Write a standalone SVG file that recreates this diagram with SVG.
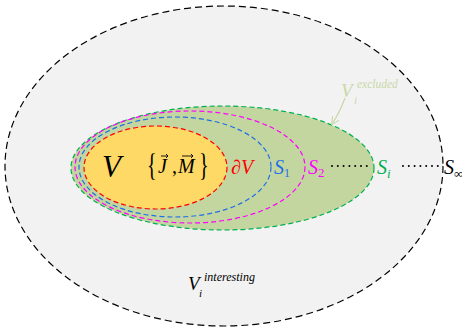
<svg xmlns="http://www.w3.org/2000/svg" width="462" height="328" viewBox="0 0 462 328">
<style>
.t{font-family:"Liberation Serif","DejaVu Serif",serif;font-style:italic}
.u{font-family:"Liberation Serif","DejaVu Serif",serif;font-style:normal}
.e{stroke-width:1.2;stroke-dasharray:5 3}
.dot{stroke:#000;stroke-width:2;stroke-dasharray:0 5.8;stroke-linecap:round;fill:none}
</style>
<defs>
<marker id="ah" viewBox="0 0 10 10" refX="9" refY="5" markerWidth="8" markerHeight="8" orient="auto" markerUnits="userSpaceOnUse">
<path d="M0,0 L10,5 L0,10" fill="none" stroke="#c8d8a8" stroke-width="1.2"/>
</marker>
</defs>
<rect width="462" height="328" fill="#ffffff"/>
<g id="outer">
<ellipse cx="224" cy="166" rx="219" ry="160" fill="#f2f2f2" stroke="#000" stroke-width="1.2" stroke-dasharray="7 4"/>
</g>
<g id="si">
<ellipse cx="222.5" cy="168" rx="151.5" ry="62" fill="#c4d6a0" stroke="#00b050" class="e"/>
</g>
<g id="s2">
<ellipse cx="190" cy="167" rx="115" ry="56" fill="none" stroke="#ff00ff" class="e"/>
</g>
<g id="s1">
<ellipse cx="175" cy="167" rx="96" ry="50" fill="none" stroke="#1e6fe6" class="e"/>
</g>
<g id="v">
<ellipse cx="155.5" cy="167.5" rx="71.5" ry="41.5" fill="#ffd966" stroke="#ff0000" class="e"/>
<text class="t" x="102" y="177" font-size="31" fill="#000">V</text>
<text class="u" transform="translate(147,176) scale(0.65,1)" font-size="31" fill="#000">{</text>
<text class="t" x="158" y="173" font-size="20" fill="#000">J</text>
<text class="u" x="172" y="173" font-size="20" fill="#000">,</text>
<text class="t" x="178" y="173" font-size="20" fill="#000">M</text>
<text class="u" transform="translate(199,176) scale(0.65,1)" font-size="31" fill="#000">}</text>
<g stroke="#000" stroke-width="0.9" fill="none">
<path d="M161,156 H168 M166,154 L168,156 L166,158"/>
<path d="M182,156 H193 M191,154 L193,156 L191,158"/>
</g>
</g>
<g id="labels">
<text class="t" x="231" y="174" font-size="20" fill="#ff0000">∂V</text>
<text class="t" x="274" y="174" font-size="20" fill="#1e6fe6">S<tspan class="u" font-size="12" dy="3">1</tspan></text>
<text class="t" x="308" y="174" font-size="20" fill="#ff00ff">S<tspan class="u" font-size="13" dy="3">2</tspan></text>
<text class="t" x="377" y="174" font-size="20" fill="#00b050">S<tspan font-size="13" dy="4">i</tspan></text>
<text class="t" x="444" y="174" font-size="20" fill="#000">S<tspan class="u" font-size="13" dy="4">∞</tspan></text>
<text class="t" x="341" y="97" font-size="19" fill="#c8d8a8">V</text>
<text class="t" x="354" y="104" font-size="11" fill="#c8d8a8">i</text>
<text class="t" x="357" y="88" font-size="11.5" fill="#c8d8a8">excluded</text>
<text class="t" x="188" y="290" font-size="19" fill="#000">V</text>
<text class="t" x="199" y="297" font-size="11" fill="#000">i</text>
<text class="t" x="204" y="281" font-size="12" fill="#000">interesting</text>
</g>
<g id="connectors">
<path d="M332,166 H370" class="dot"/>
<path d="M403,166 H439" class="dot"/>
<path d="M345,98 Q340,112 332,124" fill="none" stroke="#c8d8a8" stroke-width="1.2" marker-end="url(#ah)"/>
</g>
</svg>
